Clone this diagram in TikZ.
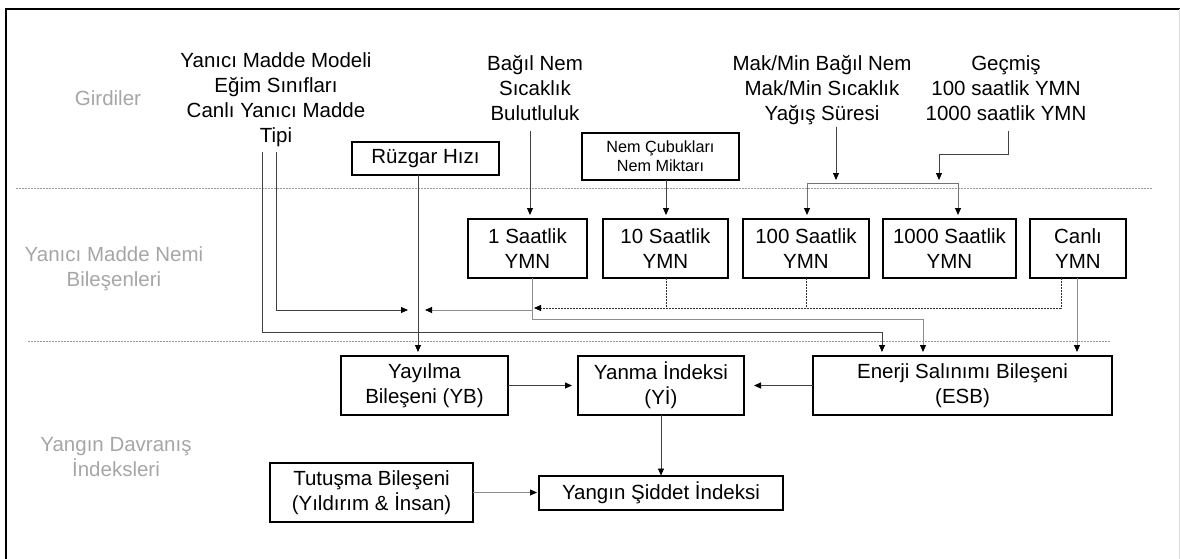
\documentclass[tikz,border=0pt]{standalone}
\usepackage{fontspec}
\setmainfont{Liberation Sans}
\usetikzlibrary{arrows.meta}
\begin{document}
\begin{tikzpicture}[x=1pt,y=-1pt,
  every node/.style={font=\fontsize{20.5}{25}\selectfont, inner sep=0pt, outer sep=0pt},
  box/.style={draw=black, line width=1.1pt, align=center},
  lab/.style={text=black!35, align=center, anchor=base},
  intext/.style={align=center, anchor=base},
  conn/.style={draw=black!75, line width=0.9pt},
  lconn/.style={draw=black!45, line width=1pt},
  dconn/.style={draw=black!80, line width=0.8pt, dash pattern=on 1.6pt off 1.4pt},
  sepline/.style={draw=black!40, line width=0.8pt, dash pattern=on 1.5pt off 1.5pt},
  arr/.style={-{Triangle[length=7pt,width=6pt,black]}, shorten >=4pt},
  arrfree/.style={-{Triangle[length=7pt,width=6pt,black]}}]
\useasboundingbox (0,0) rectangle (1180,559);
% frame
\draw[line width=2.2pt] (6,560) -- (6,9) -- (1181,9);
\draw[black!12, line width=1pt] (1179,9) -- (1179,559);
% separators
\draw[sepline] (16,188) -- (1153,188);
\draw[sepline] (28,341) -- (1110,341);
% section labels (base = baseline of last line)
\node[lab] (g1) at (108,105.3) {Girdiler};
\node[lab] (g2) at (114,286) {Yanıcı Madde Nemi\\Bileşenleri};
\node[lab] (g3) at (116,476) {Yangın Davranış\\İndeksleri};
% inputs
\node[intext] (inA) at (276,142.3) {Yanıcı Madde Modeli\\Eğim Sınıfları\\Canlı Yanıcı Madde\\Tipi};
\node[intext] (inB) at (535,120.3) {Bağıl Nem\\Sıcaklık\\Bulutluluk};
\node[intext] (inC) at (822,120.3) {Mak/Min Bağıl Nem\\Mak/Min Sıcaklık\\Yağış Süresi};
\node[intext] (inD) at (1006,120.3) {Geçmiş\\100 saatlik YMN\\1000 saatlik YMN};
% boxes
\node[box, minimum width=147, minimum height=33] (ruz) at (425.5,158.5) {Rüzgar Hızı};
\node[box, minimum width=157, minimum height=47, font=\fontsize{16.2}{19}\selectfont] (nem) at (660.5,156.5) {Nem Çubukları\\Nem Miktarı};
\node[box, minimum width=119, minimum height=59] (s1) at (527.5,248.5) {1 Saatlik\\YMN};
\node[box, minimum width=125, minimum height=59] (s10) at (665.5,248.5) {10 Saatlik\\YMN};
\node[box, minimum width=126, minimum height=59] (s100) at (806,248.5) {100 Saatlik\\YMN};
\node[box, minimum width=133, minimum height=59] (s1000) at (949.5,248.5) {1000 Saatlik\\YMN};
\node[box, minimum width=96, minimum height=59] (canli) at (1078,248.5) {Canlı\\YMN};
\node[box, minimum width=167, minimum height=59] (yb) at (424.5,385.5) {Yayılma\\Bileşeni (YB)};
\node[box, minimum width=166, minimum height=59] (yi) at (661,385.5) {Yanma İndeksi\\(Yİ)};
\node[box, minimum width=299, minimum height=59] (esb) at (962.5,385.5) {Enerji Salınımı Bileşeni\\(ESB)};
\node[box, minimum width=203, minimum height=59] (tb) at (371.5,492.5) {Tutuşma Bileşeni\\(Yıldırım \& İnsan)};
\node[box, minimum width=244, minimum height=34] (ysi) at (661,493) {Yangın Şiddet İndeksi};
% coordinates
\coordinate (a1) at (262,152);
\coordinate (a2) at (276,152);
\coordinate (jl) at (408,310);
\coordinate (jr) at (425,310);
\coordinate (w1) at (418,200);
\coordinate (b1) at (530,131);
\coordinate (n1) at (666,200);
\coordinate (c1) at (836,127);
\coordinate (c2) at (836,180);
\coordinate (d1) at (1008,131);
\coordinate (d2) at (939,154);
\coordinate (d3) at (939,180);
\coordinate (k1) at (807,183);
\coordinate (k2) at (958,183);
\coordinate (p1) at (532,300);
\coordinate (p2) at (532,310);
\coordinate (e1) at (882,332);
\coordinate (e2) at (923,319);
\coordinate (e3) at (1077,300);
\coordinate (q10) at (666,308);
\coordinate (q100) at (806,308);
\coordinate (qc) at (1061,308);
\coordinate (qe) at (534,308);
% upper connectors
\draw[conn,arr] (a1) |- (e1) -- (e1 |- esb.north);
\draw[conn,arrfree] (a2) |- (jl);
\draw[conn,arr] (ruz.south -| w1) -- (w1 |- yb.north);
\draw[conn,arr] (b1) -- (b1 |- s1.north);
\draw[conn,arr] (nem.south -| n1) -- (n1 |- s10.north);
\draw[conn,arrfree] (c1) -- (c2);
\draw[conn,arrfree] (d1) |- (d2) -- (d3);
\draw[draw=black!55, line width=1pt, {Triangle[length=7pt,width=6pt,black]}-{Triangle[length=7pt,width=6pt,black]}, shorten <=4pt, shorten >=4pt]
  (k1 |- s100.north) -- (k1) -- (k2) -- (k2 |- s1000.north);
% middle connectors
\draw[lconn,arr] (s1.south -| p1) |- (e2) -- (e2 |- esb.north);
\draw[lconn,arrfree] (p2) -- (jr);
\draw[dconn] (s10.south -| q10) -- (q10);
\draw[dconn] (s100.south -| q100) -- (q100);
\draw[dconn,arrfree] (canli.south -| qc) -- (qc) -- (qe);
\draw[lconn,arr] (canli.south -| e3) -- (e3 |- esb.north);
% lower connectors
\draw[conn,arr,shorten >=6pt] (yb.east) -- (yi.west);
\draw[conn,arr,shorten >=10pt] (esb.west) -- (yi.east);
\draw[conn,arr,shorten >=0.5pt] (yi.south) -- (ysi.north);
\draw[lconn,arr,shorten >=2pt] (tb.east) -- (tb.east -| ysi.west);
\end{tikzpicture}
\end{document}
